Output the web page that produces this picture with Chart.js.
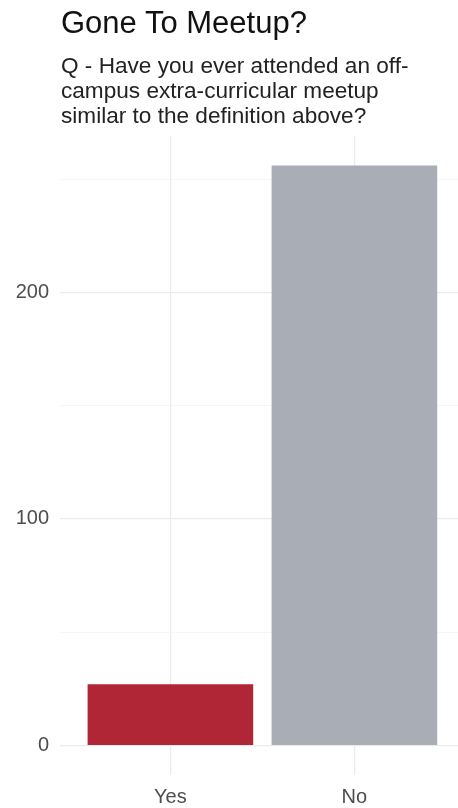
<!DOCTYPE html>
<html>
<head>
<meta charset="utf-8">
<script src="https://cdn.jsdelivr.net/npm/chart.js@4/dist/chart.umd.min.js"></script>
<style>
  html, body { margin: 0; padding: 0; background: #fff; }
  body { width: 458px; height: 808px; position: relative; overflow: hidden; font-family: "Liberation Sans", Arial, sans-serif; }
  #title { position: absolute; left: 61px; top: 7px; font-size: 31px; line-height: 31px; color: #111; white-space: nowrap; }
  #subtitle { position: absolute; left: 61px; top: 53px; font-size: 22.6px; line-height: 25px; color: #222; white-space: nowrap; }
  #wrap { position: absolute; left: 0; top: 0; width: 458px; height: 808px; }
</style>
</head>
<body>
<div id="wrap"><canvas id="chart"></canvas></div>
<div id="title">Gone To Meetup?</div>
<div id="subtitle">Q - Have you ever attended an off-<br>campus extra-curricular meetup<br>similar to the definition above?</div>
<script>
const categories = ['Yes', 'No'];
const counts = [27, 256];
const barColors = ['#B02636', '#A9AEB6'];
const yTicks = [0, 100, 200];
const yGrid = [0, 50, 100, 150, 200, 250];

const points = categories.map((c, i) => ({ x: i + 1, y: counts[i] }));

new Chart(document.getElementById('chart'), {
  type: 'bar',
  data: {
    datasets: [{
      data: points,
      backgroundColor: barColors,
      barPercentage: 0.9,
      categoryPercentage: 1
    }]
  },
  options: {
    responsive: true,
    maintainAspectRatio: false,
    animation: false,
    layout: { padding: { top: 136, right: 0, bottom: 0, left: 0 } },
    plugins: { legend: { display: false }, tooltip: { enabled: false } },
    scales: {
      x: {
        type: 'linear',
        offset: false,
        min: 0.4,
        max: 2.563,
        afterBuildTicks: s => { s.ticks = categories.map((c, i) => ({ value: i + 1 })); },
        afterFit: s => { s.height = 33; },
        border: { display: false },
        grid: { offset: false, color: '#EBEBEB', lineWidth: 1.2, drawTicks: false },
        ticks: {
          padding: 10,
          color: '#4D4D4D',
          font: { family: 'Liberation Sans', size: 20 },
          callback: v => categories[v - 1]
        }
      },
      y: {
        min: -13,
        max: 269,
        afterBuildTicks: s => { s.ticks = yGrid.map(v => ({ value: v })); },
        afterFit: s => { s.width = 60; },
        border: { display: false },
        grid: {
          drawTicks: false,
          color: ctx => yTicks.includes(ctx.tick.value) ? '#EBEBEB' : '#F4F4F4',
          lineWidth: ctx => yTicks.includes(ctx.tick.value) ? 1.2 : 0.8
        },
        ticks: {
          padding: 11,
          color: '#4D4D4D',
          font: { family: 'Liberation Sans', size: 20 },
          callback: v => yTicks.includes(v) ? v : ''
        }
      }
    }
  }
});
</script>
</body>
</html>
